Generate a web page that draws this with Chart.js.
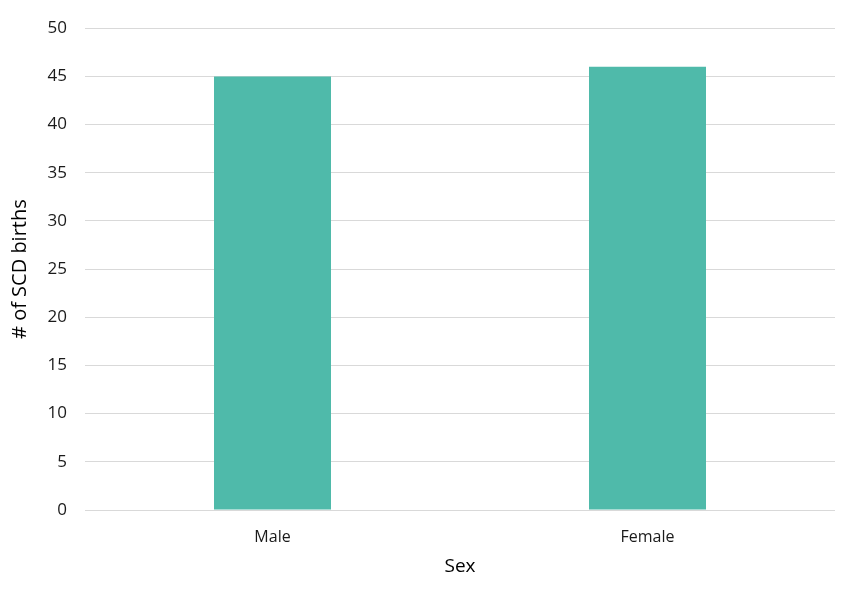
<!DOCTYPE html>
<html>
<head>
<meta charset="utf-8">
<script src="https://cdn.jsdelivr.net/npm/chart.js@4"></script>
<style>
html,body{margin:0;padding:0;background:#fff;}
#wrap{width:850px;height:600px;}
</style>
</head>
<body>
<div id="wrap"><canvas id="c" width="850" height="600"></canvas></div>
<script>
const categories = ["Male", "Female"];
const births = [45, 46];
const yTicks = [0, 5, 10, 15, 20, 25, 30, 35, 40, 45, 50];

const FONT = "'Open Sans', 'Liberation Sans', sans-serif";
new Chart(document.getElementById('c'), {
  type: 'bar',
  data: {
    labels: categories,
    datasets: [{
      data: births,
      backgroundColor: '#4FBAAA',
      categoryPercentage: 1.0,
      barPercentage: 0.312
    }]
  },
  options: {
    responsive: false,
    animation: false,
    devicePixelRatio: 1,
    layout: { padding: { top: 22, right: 15, bottom: 18, left: 4 } },
    plugins: { legend: { display: false }, tooltip: { enabled: false } },
    scales: {
      x: {
        grid: { display: false },
        border: { display: false },
        ticks: { color: '#1a1a1a', font: { family: FONT, size: 16 }, padding: 10 },
        title: { display: true, text: 'Sex', color: '#000', font: { family: FONT, size: 19 }, padding: { top: 4 } },
        afterFit: s => { s.height = 72; }
      },
      y: {
        min: 0, max: 50,
        afterBuildTicks: s => { s.ticks = yTicks.map(v => ({ value: v })); },
        grid: { color: '#d9d9d9', drawTicks: false, lineWidth: 1 },
        border: { display: false },
        ticks: { color: '#1a1a1a', font: { family: FONT, size: 17 }, padding: 18 },
        title: { display: true, text: '# of SCD births', color: '#000', font: { family: FONT, size: 20 }, padding: { bottom: 2 } },
        afterFit: s => { s.width = 81; }
      }
    }
  }
});
</script>
</body>
</html>
